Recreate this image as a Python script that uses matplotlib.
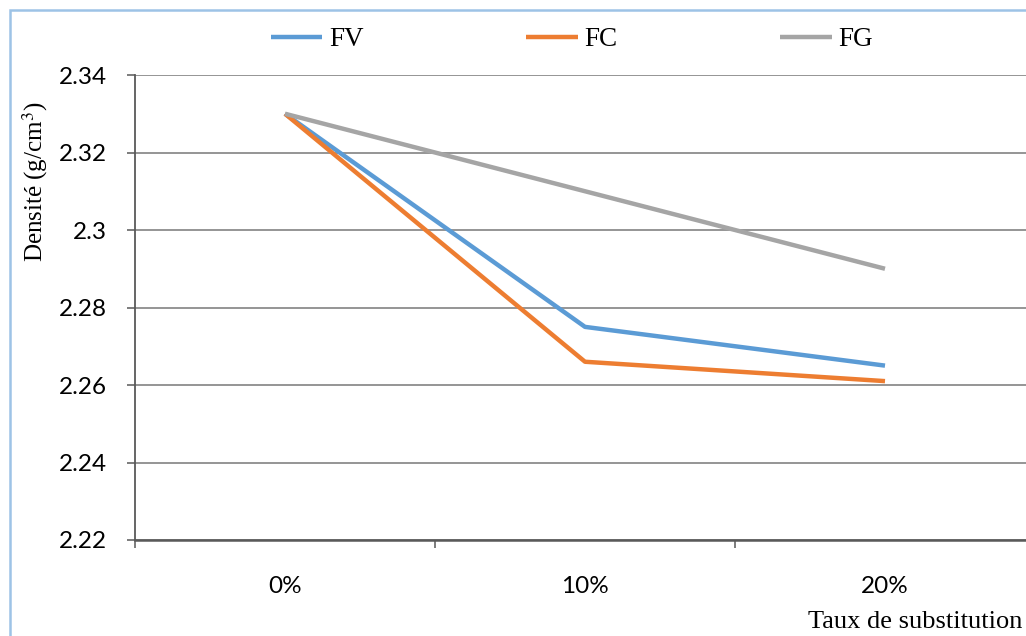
import matplotlib.pyplot as plt
from matplotlib.patches import Rectangle
from matplotlib.ticker import FixedLocator, NullFormatter

# Densité des mélanges selon le taux de substitution
categories = ['0%', '10%', '20%']
fv = [2.33, 2.275, 2.265]
fc = [2.33, 2.266, 2.261]
fg = [2.33, 2.31, 2.29]
yticks = [2.22, 2.24, 2.26, 2.28, 2.30, 2.32, 2.34]
ytick_labels = ['2.22', '2.24', '2.26', '2.28', '2.3', '2.32', '2.34']

W, H = 1026, 636
fig = plt.figure(figsize=(W / 100, H / 100), dpi=100)

# zone de graphique (dépasse à droite et en bas, comme le cadre Excel rogné)
fig.patches.append(Rectangle((10 / W, -0.05), 1.1, 1 - 10 / H + 0.05,
                             transform=fig.transFigure, fill=False,
                             edgecolor='#9DC3E6', linewidth=1.8, clip_on=False))

ax = fig.add_axes([135 / W, 96 / H, 900 / W, 465 / H])
x = list(range(len(categories)))
ax.plot(x, fv, color='#5B9BD5', lw=3.2, label='FV', solid_capstyle='butt')
ax.plot(x, fc, color='#ED7D31', lw=3.2, label='FC', solid_capstyle='butt')
ax.plot(x, fg, color='#A5A5A5', lw=3.2, label='FG', solid_capstyle='butt')

ax.set_xlim(-0.5, 2.5)
ax.set_ylim(2.22, 2.34)

for s in ['top', 'right']:
    ax.spines[s].set_visible(False)
ax.spines['left'].set_color('#595959')
ax.spines['bottom'].set_color('#595959')
ax.spines['left'].set_linewidth(1.3)
ax.spines['bottom'].set_linewidth(1.8)

ax.set_yticks(yticks)
ax.set_yticklabels(ytick_labels, fontsize=17.5, family='Lato')
ax.tick_params(axis='y', length=6, width=1.1, color='#595959', pad=14)
ax.yaxis.grid(True, color='#8C8C8C', linewidth=1.3)
ax.set_axisbelow(True)

# graduations entre les catégories, étiquettes au centre
ax.xaxis.set_major_locator(FixedLocator([-0.5, 0.5, 1.5, 2.5]))
ax.xaxis.set_major_formatter(NullFormatter())
ax.xaxis.set_minor_locator(FixedLocator(x))
ax.set_xticklabels(categories, minor=True, fontsize=17.5, family='Lato')
ax.tick_params(axis='x', which='major', length=6, width=1.1, color='#595959')
ax.tick_params(axis='x', which='minor', length=0, pad=26)

ax.legend(loc='center', bbox_to_anchor=(572 / W, 1 - 40 / H),
          bbox_transform=fig.transFigure, ncol=3, frameon=False,
          prop={'family': 'Liberation Serif', 'size': 19.5},
          handlelength=1.9, handletextpad=0.25, columnspacing=6.0)

fig.text(35 / W, 1 - 182 / H, 'Densité (g/cm$^3$)', rotation=90,
         ha='center', va='center', fontsize=18, family='Liberation Serif',
         math_fontfamily='stix')
fig.text(1022 / W, 1 - 622 / H, 'Taux de substitution', ha='right',
         va='center', fontsize=19, family='Liberation Serif')

fig.savefig('out.png', dpi=100)
